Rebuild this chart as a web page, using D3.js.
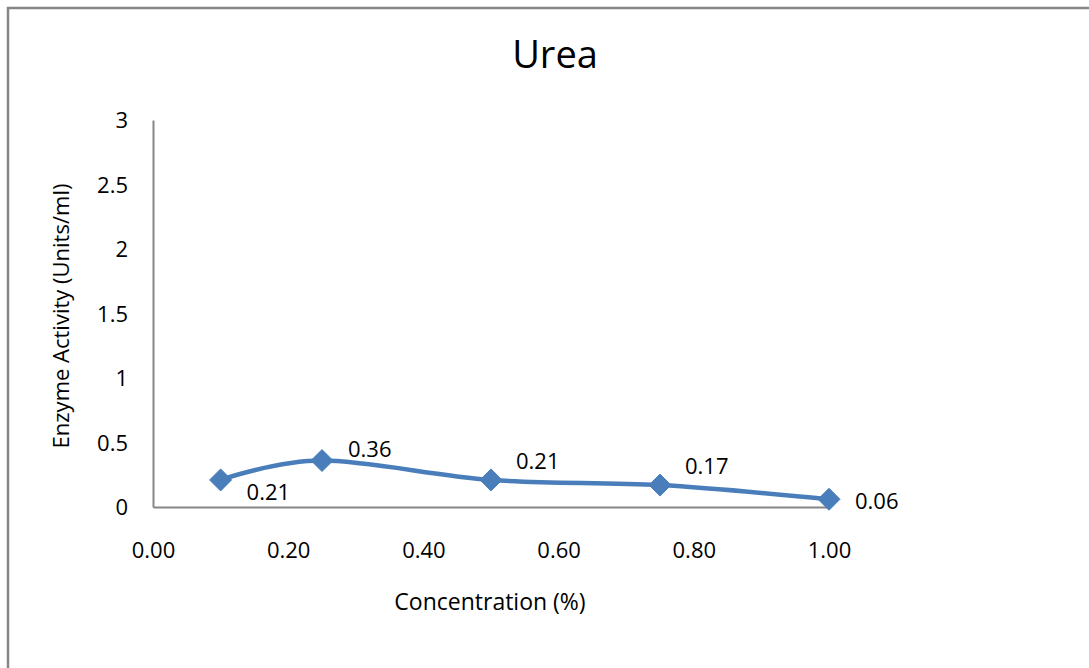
<!DOCTYPE html>
<html>
<head>
<meta charset="utf-8">
<script src="https://cdn.jsdelivr.net/npm/d3@7"></script>
<style>
  html, body { margin: 0; padding: 0; background: #fff; }
  svg { display: block; }
  text { font-family: "Open Sans", Roboto, sans-serif; fill: #000; }
</style>
</head>
<body>
<svg id="chart" width="1089" height="668"></svg>
<script>
// Urea concentration vs enzyme activity
const concentration = [0.10, 0.25, 0.50, 0.75, 1.00];
const activity = [0.21, 0.36, 0.21, 0.17, 0.06];
const xTicks = [0, 0.2, 0.4, 0.6, 0.8, 1.0];
const yTicks = [0, 0.5, 1, 1.5, 2, 2.5, 3];

// label offsets from each point (dx, dy)
const labelOffsets = [[26, 12], [26, -11], [25, -19], [25, -19], [26, 2]];

const FONT = "'Open Sans', Roboto, sans-serif";
const svg = d3.select("#chart");
const W = 1089, H = 668;

// outer chart border
svg.append("rect")
  .attr("x", 8).attr("y", 8)
  .attr("width", W + 20).attr("height", H + 20)
  .attr("fill", "#fff")
  .attr("stroke", "#868686").attr("stroke-width", 2.5);

const plot = { left: 153, right: 829, top: 120, bottom: 507 };

const x = d3.scaleLinear().domain([0, 1]).range([plot.left, plot.right]);
const y = d3.scaleLinear().domain([0, 3]).range([plot.bottom, plot.top]);

// axes (no tick marks)
const xAxis = svg.append("g")
  .attr("transform", `translate(0,${plot.bottom})`)
  .call(d3.axisBottom(x).tickValues(xTicks).tickFormat(d3.format(".2f")).tickSize(0).tickPadding(35));
const yAxis = svg.append("g")
  .attr("transform", `translate(${plot.left},0)`)
  .call(d3.axisLeft(y).tickValues(yTicks).tickFormat(d => String(d)).tickSize(0).tickPadding(25));

[xAxis, yAxis].forEach(g => {
  g.select(".domain").attr("stroke", "#868686").attr("stroke-width", 2);
  g.selectAll("text").attr("font-size", 22).attr("font-family", FONT).attr("fill", "#000");
});
yAxis.selectAll("text").attr("dy", "0.35em");

// smoothed series line
const line = d3.line()
  .x((d, i) => x(concentration[i]))
  .y(d => y(d))
  .curve(d3.curveCardinal.tension(0));

svg.append("path")
  .datum(activity)
  .attr("d", line)
  .attr("fill", "none")
  .attr("stroke", "#4a7ebb")
  .attr("stroke-width", 4.5)
  .attr("stroke-linejoin", "round");

// diamond markers
svg.selectAll(".marker")
  .data(activity)
  .join("path")
  .attr("class", "marker")
  .attr("transform", (d, i) => `translate(${x(concentration[i])},${y(d)})`)
  .attr("d", "M0,-11L11,0L0,11L-11,0Z")
  .attr("fill", "#4a7ebb")
  .attr("stroke", "#4a7ebb")
  .attr("stroke-width", 1);

// data labels
svg.selectAll(".dlabel")
  .data(activity)
  .join("text")
  .attr("class", "dlabel")
  .attr("x", (d, i) => x(concentration[i]) + labelOffsets[i][0])
  .attr("y", (d, i) => y(d) + labelOffsets[i][1])
  .attr("dy", "0.35em")
  .attr("font-size", 22)
  .text(d => d.toFixed(2));

// title
svg.append("text")
  .attr("x", 555).attr("y", 68)
  .attr("text-anchor", "middle")
  .attr("font-size", 38)
  .text("Urea");

// axis titles
svg.append("text")
  .attr("x", 490).attr("y", 610)
  .attr("text-anchor", "middle")
  .attr("font-size", 23)
  .text("Concentration (%)");

svg.append("text")
  .attr("transform", "translate(69,316) rotate(-90)")
  .attr("text-anchor", "middle")
  .attr("font-size", 22)
  .text("Enzyme Activity (Units/ml)");
</script>
</body>
</html>
